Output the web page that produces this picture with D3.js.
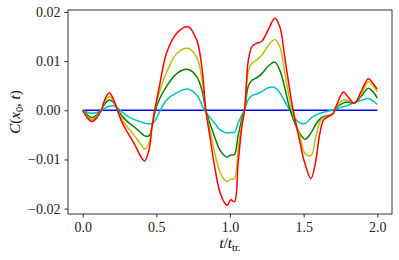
<!DOCTYPE html>
<html>
<head>
<meta charset="utf-8">
<script src="https://cdn.jsdelivr.net/npm/d3@7"></script>
<style>
  body { margin: 0; background: #fff; }
</style>
</head>
<body>
<script>
(function(){

  //time samples, t / t_tr.
  var tVals = [0, 0.03, 0.06, 0.09, 0.126, 0.15, 0.18, 0.21, 0.235, 0.26, 0.30, 0.35, 0.40, 0.42, 0.45, 0.47, 0.49,
    0.52, 0.57, 0.64, 0.716, 0.775, 0.81, 0.836, 0.865, 0.90, 0.93, 0.965, 0.983, 1.005, 1.03, 1.055, 1.08,
    1.10, 1.125, 1.15, 1.18, 1.215, 1.26, 1.305, 1.34, 1.37, 1.405, 1.43, 1.47, 1.51, 1.55, 1.58, 1.61,
    1.635, 1.665, 1.70, 1.72, 1.77, 1.80, 1.845, 1.89, 1.94, 1.97, 2.0];

  //correlation curves
  var blueVals = tVals.map(function(){ return 0; });
  var cyanVals = [0, -0.0004, -0.0006, -0.0005, -0.0001, 0.0004, 0.0008, 0.0009, 0.0005, -0.0002, -0.0011, -0.0019, -0.0024, -0.0026, -0.0028, -0.0027, -0.0022,
    -0.0004, 0.0021, 0.0036, 0.0043, 0.0031, 0.0010, -0.0004, -0.0015, -0.0028, -0.0039, -0.0045, -0.0046, -0.0045, -0.0045, -0.0026, -0.0010,
    0.0001, 0.0022, 0.0030, 0.0033, 0.0038, 0.0046, 0.0046, 0.0035, 0.0019, 0.0001, -0.0012, -0.0025, -0.0027, -0.0016, -0.0010, -0.0006,
    -0.0004, -0.0002, 0.0001, 0.0003, 0.0007, 0.0010, 0.0016, 0.0020, 0.0024, 0.0019, 0.0012];
  var greenVals = [0, -0.0009, -0.0015, -0.0011, 0.0001, 0.0013, 0.0021, 0.0016, 0.0004, -0.0009, -0.0022, -0.0034, -0.0047, -0.0052, -0.0052, -0.0034, -0.0004,
    0.0022, 0.0049, 0.0075, 0.0083, 0.0068, 0.0040, 0, -0.0028, -0.0058, -0.0080, -0.0093, -0.0095, -0.0091, -0.0090, -0.0052, -0.0018,
    0.0003, 0.0050, 0.0061, 0.0066, 0.0074, 0.0090, 0.0098, 0.0080, 0.0048, 0.0004, -0.0018, -0.0045, -0.0059, -0.0046, -0.0030, -0.0018,
    -0.0013, -0.0011, -0.0007, 0.0004, 0.0015, 0.0017, 0.0015, 0.0028, 0.0045, 0.0038, 0.0025];
  var oliveVals = [0, -0.0012, -0.0019, -0.0014, 0.0001, 0.0018, 0.0028, 0.0019, 0.0002, -0.0015, -0.0033, -0.0051, -0.0072, -0.0079, -0.0067, -0.0031, 0.0001,
    0.0036, 0.0078, 0.0116, 0.0126, 0.0107, 0.0063, 0, -0.0042, -0.0091, -0.0124, -0.0142, -0.0145, -0.0140, -0.0139, -0.0082, -0.0028,
    0.0003, 0.0080, 0.0096, 0.0102, 0.0112, 0.0132, 0.0144, 0.0127, 0.0080, 0.0022, -0.0010, -0.0048, -0.0088, -0.0092, -0.0058, -0.0024,
    -0.0015, -0.0013, -0.0008, 0.0006, 0.0021, 0.0020, 0.0015, 0.0032, 0.0058, 0.0050, 0.0038];
  var redVals = [0, -0.0015, -0.0023, -0.0017, 0, 0.0022, 0.0035, 0.0022, 0, -0.0020, -0.0043, -0.0068, -0.0097, -0.0103, -0.0081, -0.0035, 0.0002,
    0.0048, 0.0117, 0.0157, 0.0170, 0.0142, 0.0085, 0, -0.0056, -0.0122, -0.0165, -0.0189, -0.0193, -0.0182, -0.0186, -0.0108, -0.0035,
    0.0005, 0.0103, 0.0130, 0.0136, 0.0140, 0.0164, 0.0187, 0.0168, 0.0112, 0.0042, -0.0002, -0.0058, -0.0110, -0.0139, -0.0107, -0.0047,
    -0.0020, -0.0013, -0.0006, 0.0008, 0.0037, 0.0028, 0.0014, 0.0038, 0.0064, 0.0055, 0.0043];

  var series = [
    {name: "b", color: "#0000ff", values: blueVals},
    {name: "c", color: "#00bfbf", values: cyanVals},
    {name: "g", color: "#008000", values: greenVals},
    {name: "y", color: "#bfbf00", values: oliveVals},
    {name: "r", color: "#ff0000", values: redVals}
  ];

  var xTicks = [0, 0.5, 1, 1.5, 2];
  var yTicks = [-0.02, -0.01, 0, 0.01, 0.02];

  var serif = "'Liberation Serif', 'DejaVu Serif', serif";

  //frame
  var width = 399, height = 260;
  var left = 68, right = 392, top = 10, bottom = 214;

  var svg = d3.select("body")
    .append("svg")
    .attr("width", width)
    .attr("height", height);

  var x = d3.scaleLinear().domain([-0.1, 2.1]).range([left, right]);
  var y = d3.scaleLinear().domain([-0.0211, 0.0204]).range([bottom, top]);

  //curves
  var line = d3.line()
    .x(function(d){ return x(d[0]); })
    .y(function(d){ return y(d[1]); })
    .curve(d3.curveCatmullRom.alpha(0.5));

  svg.selectAll(".series")
    .data(series)
    .enter()
    .append("path")
    .attr("class", "series")
    .attr("fill", "none")
    .attr("stroke", function(d){ return d.color; })
    .attr("stroke-width", 1.5)
    .attr("stroke-linejoin", "round")
    .attr("d", function(d){
      return line(tVals.map(function(t, i){ return [t, d.values[i]]; }));
    });

  //axes
  var xAxis = svg.append("g")
    .attr("transform", "translate(0," + bottom + ")")
    .call(d3.axisBottom(x).tickValues(xTicks).tickFormat(d3.format(".1f")).tickSize(3.5).tickPadding(5));

  var yAxis = svg.append("g")
    .attr("transform", "translate(" + left + ",0)")
    .call(d3.axisLeft(y).tickValues(yTicks).tickFormat(d3.format(".2f")).tickSize(3.5).tickPadding(4));

  [xAxis, yAxis].forEach(function(g){
    g.attr("font-family", serif).attr("font-size", 14);
    g.select(".domain").remove();
    g.selectAll(".tick line").attr("stroke", "#000").attr("stroke-width", 0.8);
    g.selectAll(".tick text").attr("fill", "#222");
  });

  //spines
  svg.append("rect")
    .attr("x", left)
    .attr("y", top)
    .attr("width", right - left)
    .attr("height", bottom - top)
    .attr("fill", "none")
    .attr("stroke", "#000")
    .attr("stroke-width", 0.8);

  //axis labels
  var xl = svg.append("text")
    .attr("font-family", serif)
    .attr("font-size", 15)
    .attr("x", (left + right) / 2)
    .attr("y", 248)
    .attr("text-anchor", "middle");
  xl.append("tspan").attr("font-style", "italic").text("t");
  xl.append("tspan").text("/");
  xl.append("tspan").attr("font-style", "italic").text("t");
  xl.append("tspan").attr("font-size", 10.5).attr("dy", 2.5).text("tr.");

  var yl = svg.append("text")
    .attr("font-family", serif)
    .attr("font-size", 15)
    .attr("transform", "translate(20," + ((top + bottom) / 2) + ") rotate(-90)")
    .attr("text-anchor", "middle");
  yl.append("tspan").attr("font-style", "italic").text("C");
  yl.append("tspan").text("(");
  yl.append("tspan").attr("font-style", "italic").text("x");
  yl.append("tspan").attr("font-size", 10.5).attr("dy", 2.5).text("0");
  yl.append("tspan").attr("dy", -2.5).text(", ");
  yl.append("tspan").attr("font-style", "italic").text("t");
  yl.append("tspan").text(")");

})();
</script>
</body>
</html>
